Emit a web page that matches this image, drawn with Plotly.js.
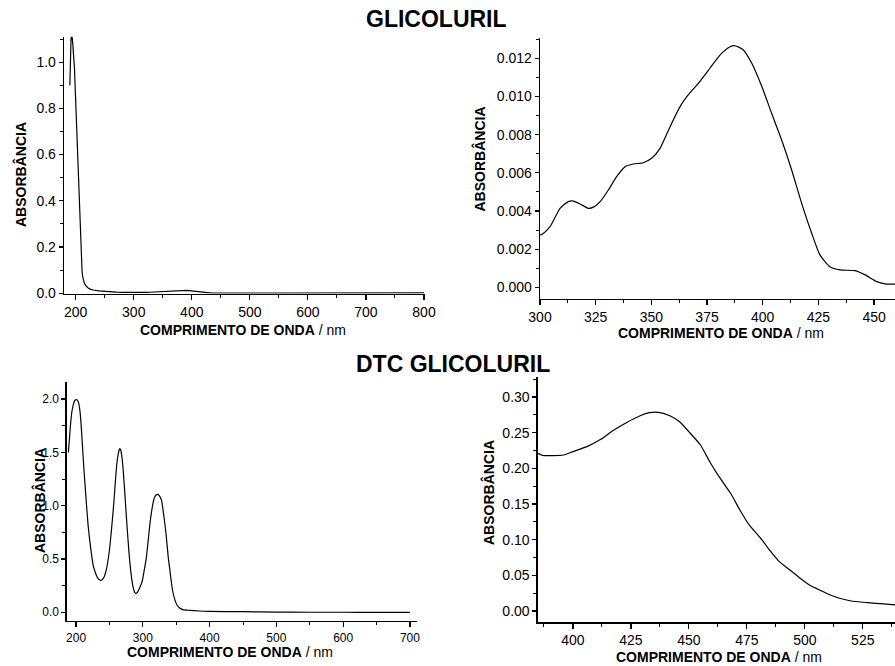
<!DOCTYPE html>
<html>
<head>
<meta charset="utf-8">
<script src="https://cdn.plot.ly/plotly-3.0.1.min.js"></script>
<style>
  html, body { margin: 0; padding: 0; background: #fff; }
  #chart { width: 895px; height: 666px; }
</style>
</head>
<body>
<div id="chart"></div>
<script>
// UV-Vis spectrum of glicoluril (wavelength in nm, absorbance)
const glicWl = [
  190, 191, 192, 193, 194, 195, 196, 197, 198, 199, 200, 201, 202, 203, 204,
  205, 206, 207, 208, 209, 210, 211, 212, 213, 215, 217, 219, 222, 226, 230,
  240, 253, 270, 285,
  300, 304.5, 309, 312.7, 315, 318, 321.7, 324, 327, 330.7, 334.4, 338.2,
  341.9, 346.4, 350.1, 353.9, 358.4, 362.9, 365.9, 371.1, 376.3, 380.8,
  385.3, 387.6, 391.3, 395.1, 399.6, 404, 408.5, 413, 417.5, 422, 425.7,
  430.2, 434.7, 441.5, 446, 451.2, 455.7, 460,
  470, 500, 550, 600, 650, 700, 740, 760, 770, 780, 790, 800
];
const glicAbs = [
  0.90, 1.04, 1.10, 1.115, 1.105, 1.08, 1.05, 1.02, 0.97, 0.90, 0.83, 0.76, 0.70, 0.63, 0.54,
  0.46, 0.38, 0.29, 0.22, 0.17, 0.125, 0.095, 0.073, 0.058, 0.043, 0.034, 0.029, 0.022, 0.017, 0.014,
  0.010, 0.007, 0.005, 0.0038,
  0.00274, 0.00318, 0.00414, 0.00449, 0.00452, 0.00437, 0.00414, 0.0042, 0.00449, 0.0051, 0.0058, 0.00632,
  0.00646, 0.00653, 0.00676, 0.00728, 0.00842, 0.00947, 0.00999, 0.01069, 0.01148, 0.01217,
  0.01261, 0.01266, 0.01244, 0.01174, 0.01052, 0.00912, 0.00772, 0.00615, 0.0044, 0.00283, 0.0017,
  0.00108, 0.00091, 0.00087, 0.00065, 0.0003, 0.00017, 0.00017,
  0.0002, 0.0003, 0.0004, 0.0005, 0.0005, 0.0008, 0.0012, 0.0025, 0.0015, 0.003, 0.002, 0.0015
];

// UV-Vis spectrum of DTC glicoluril, full range
const dtcWl = [
  188.5, 190, 192, 194, 196, 198, 200, 202, 204, 206, 208, 210, 212, 214, 216,
  218, 220, 223, 226, 229, 232, 235, 237, 239, 242, 245, 248, 251, 254, 257,
  260, 262, 264, 265.5, 267, 269, 271, 273, 275, 277, 279, 281, 283, 285, 287,
  289, 291, 293, 296, 299, 302, 305, 308, 311, 314, 317, 320, 323, 326, 328,
  330, 333, 335, 338, 340, 343, 345, 348, 351, 355, 360, 370, 385, 400, 450,
  500, 550, 600, 650, 700
];
const dtcAbs = [
  1.50, 1.62, 1.78, 1.89, 1.95, 1.985, 1.995, 1.99, 1.96, 1.88, 1.72, 1.52, 1.32, 1.15, 0.98,
  0.82, 0.70, 0.55, 0.43, 0.37, 0.325, 0.305, 0.30, 0.305, 0.33, 0.39, 0.49, 0.64, 0.84, 1.06,
  1.32, 1.44, 1.51, 1.535, 1.52, 1.44, 1.30, 1.12, 0.93, 0.75, 0.58, 0.44, 0.33, 0.25, 0.20,
  0.178, 0.18, 0.20, 0.24, 0.29, 0.39, 0.50, 0.67, 0.85, 0.98, 1.07, 1.10, 1.106, 1.08, 1.05,
  0.97, 0.83, 0.72, 0.52, 0.42, 0.27, 0.19, 0.116, 0.07, 0.04, 0.025, 0.018, 0.012, 0.009, 0.005,
  0.002, 0.0, 0.0, -0.001, -0.002
];

// DTC glicoluril, visible band
const dtcVisWl = [
  385, 387, 391, 396, 400, 406, 412, 417, 423, 429, 433, 437, 442, 446, 450,
  455, 459, 463, 468, 472, 476, 481, 485, 489, 494, 498, 502, 507, 511, 515,
  520, 527, 534, 539
];
const dtcVisAbs = [
  0.221, 0.218, 0.2178, 0.2187, 0.2234, 0.2304, 0.2407, 0.2523, 0.264, 0.2738, 0.278, 0.2785, 0.2734, 0.2654, 0.2514,
  0.2327, 0.2093, 0.1883, 0.165, 0.1416, 0.1206, 0.1019, 0.0846, 0.0692, 0.0565, 0.0458, 0.0364, 0.0285, 0.0224, 0.0178,
  0.014, 0.0117, 0.0098, 0.0084
];

const W = 895, H = 666;
const FONT = 'Liberation Sans, Arial, Helvetica, sans-serif';
const px2x = p => p / W;
const px2y = p => 1 - p / H;

const line = { color: '#000', width: 1.2 };
const smooth = Object.assign({ shape: 'spline', smoothing: 0.6 }, line);
const traces = [
  { x: glicWl, y: glicAbs, xaxis: 'x', yaxis: 'y', mode: 'lines', line: line },
  { x: glicWl, y: glicAbs, xaxis: 'x2', yaxis: 'y2', mode: 'lines', line: smooth },
  { x: dtcWl, y: dtcAbs, xaxis: 'x3', yaxis: 'y3', mode: 'lines', line: smooth },
  { x: dtcVisWl, y: dtcVisAbs, xaxis: 'x4', yaxis: 'y4', mode: 'lines', line: Object.assign({}, smooth, { smoothing: 0.5 }) }
];

function xAxis(dom, range, dtick, tick0, fs, anchor) {
  return {
    domain: [px2x(dom[0]), px2x(dom[1])], range: range, anchor: anchor,
    showgrid: false, zeroline: false, showline: true, linecolor: '#000', linewidth: 1.3,
    ticks: 'outside', ticklen: 5, tickwidth: 1.2, tickcolor: '#000',
    dtick: dtick, tick0: tick0,
    minor: { dtick: dtick / 2, tick0: tick0, ticks: 'outside', ticklen: 3, tickwidth: 1, tickcolor: '#000', showgrid: false },
    tickfont: { family: FONT, size: fs, color: '#000' }
  };
}
function yAxis(dom, range, dtick, fmt, fs, anchor) {
  return {
    domain: [px2y(dom[1]), px2y(dom[0])], range: range, anchor: anchor,
    showgrid: false, zeroline: false, showline: true, linecolor: '#000', linewidth: 1.3,
    ticks: 'outside', ticklen: 4, tickwidth: 1.2, tickcolor: '#000',
    dtick: dtick, tick0: 0, tickformat: fmt,
    minor: { dtick: dtick / 2, tick0: 0, ticks: 'outside', ticklen: 3, tickwidth: 1, tickcolor: '#000', showgrid: false },
    tickfont: { family: FONT, size: fs, color: '#000' }
  };
}

const xTitle = '<b>COMPRIMENTO DE ONDA</b> / nm';
const yTitle = '<b>ABSORBÂNCIA</b>';

function note(text, cx, cy, size, angle) {
  return {
    text: text, xref: 'paper', yref: 'paper', x: px2x(cx), y: px2y(cy),
    xanchor: 'center', yanchor: 'middle', showarrow: false, textangle: angle || 0,
    font: { family: FONT, size: size, color: '#000' }
  };
}

const layout = {
  width: W, height: H,
  margin: { l: 0, r: 0, t: 0, b: 0 },
  paper_bgcolor: '#fff', plot_bgcolor: '#fff',
  showlegend: false,
  xaxis:  xAxis([64, 425], [179.9, 801.7], 100, 0, 14, 'y'),
  yaxis:  yAxis([36.7, 293.5], [-0.001, 1.11], 0.2, '.1f', 14, 'x'),
  xaxis2: xAxis([540, 895], [300, 459.4], 25, 0, 14, 'y2'),
  yaxis2: yAxis([38.3, 299], [-0.000613, 0.01305], 0.002, '.3f', 14, 'x2'),
  xaxis3: xAxis([66.7, 417.3], [186, 711], 100, 0, 12, 'y3'),
  yaxis3: yAxis([382.3, 621], [-0.082, 2.157], 0.5, '.1f', 12, 'x3'),
  xaxis4: xAxis([537.7, 895], [384.8, 538.9], 25, 0, 14, 'y4'),
  yaxis4: yAxis([376.7, 622.3], [-0.0159, 0.3285], 0.05, '.2f', 14, 'x4'),
  annotations: [
    note('<b>GLICOLURIL</b>', 436, 18.5, 23),
    note('<b>DTC GLICOLURIL</b>', 453, 364.3, 23),
    note(xTitle, 243, 330, 14),
    note(xTitle, 720.8, 333, 14),
    note(xTitle, 230.5, 651.7, 14),
    note(xTitle, 718.7, 656.7, 14),
    note(yTitle, 20.5, 174.5, 14, -90),
    note(yTitle, 479, 159.5, 14, -90),
    note(yTitle, 39, 501, 14, -90),
    note(yTitle, 488, 493, 14, -90)
  ]
};

Plotly.newPlot('chart', traces, layout, { staticPlot: true, displayModeBar: false });
</script>
</body>
</html>
